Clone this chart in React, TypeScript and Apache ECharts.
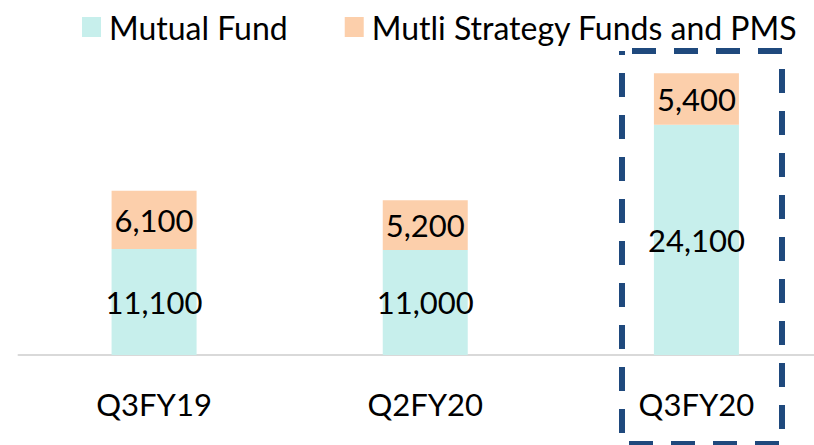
import React, { useEffect, useRef } from "react";
import * as echarts from "echarts";

const categories = ["Q3FY19", "Q2FY20", "Q3FY20"];
const mutualFund = [11100, 11000, 24100];
const multiStrategy = [6100, 5200, 5400];
const seriesNames = ["Mutual Fund", "Mutli Strategy Funds and PMS"];

const FONT = "Lato, 'Open Sans', sans-serif";

export default function App() {
  const ref = useRef<HTMLDivElement>(null);
  useEffect(() => {
    if (!ref.current) return;
    const chart = echarts.init(ref.current, undefined, { renderer: "svg" });
    const fmt = (p: any) => Number(p.value).toLocaleString("en-US");
    chart.setOption({
      animation: false,
      textStyle: { fontFamily: FONT },
      legend: {
        left: 77,
        top: 6,
        itemWidth: 19,
        itemHeight: 20,
        itemGap: 57,
        icon: "rect",
        textStyle: { fontSize: 32, color: "#000", fontFamily: FONT, padding: [0, 0, 0, 3] },
        data: seriesNames,
      },
      grid: { left: 18.5, right: 0, top: 68.5, bottom: 90 },
      xAxis: {
        type: "category",
        data: categories,
        axisLine: { lineStyle: { color: "#d9d9d9", width: 2 } },
        axisTick: { show: false },
        axisLabel: { fontSize: 31, color: "#000", margin: 33, fontFamily: FONT },
      },
      yAxis: {
        type: "value",
        min: 0,
        max: 30000,
        show: false,
        splitLine: { show: false },
      },
      series: [
        {
          name: seriesNames[0],
          type: "bar",
          stack: "total",
          barWidth: 85,
          data: mutualFund,
          itemStyle: { color: "#C7EFEC" },
          label: { show: true, position: "inside", fontSize: 31, color: "#000", fontFamily: FONT, formatter: fmt },
        },
        {
          name: seriesNames[1],
          type: "bar",
          stack: "total",
          barWidth: 85,
          data: multiStrategy,
          itemStyle: { color: "#FCCFAB" },
          label: { show: true, position: "inside", fontSize: 31, color: "#000", fontFamily: FONT, formatter: fmt },
        },
      ],
      graphic: [
        {
          type: "rect",
          shape: { x: 622, y: 51, width: 160, height: 393 },
          style: { fill: "none", stroke: "#1F497D", lineWidth: 6, lineDash: [24, 18], lineDashOffset: -10 },
          z: 100,
        },
      ],
    });
    return () => chart.dispose();
  }, []);
  return (
    <div
      style={{ position: "fixed", left: 0, top: 0, width: 814, height: 445, overflow: "hidden", background: "#fff" }}
    >
      <div ref={ref} style={{ width: 832, height: 445 }} />
    </div>
  );
}
